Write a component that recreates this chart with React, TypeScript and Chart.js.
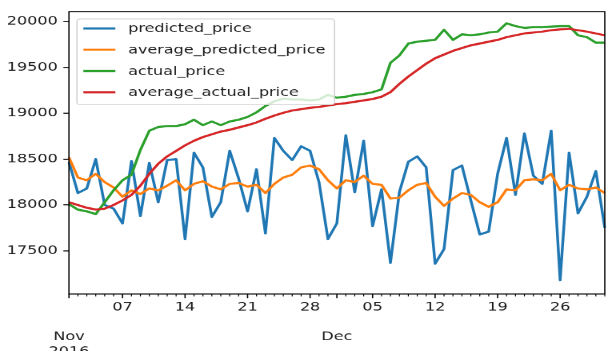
import { useEffect, useRef } from 'react';
import { Chart, registerables } from 'chart.js';

Chart.register(...registerables);

// Daily observations, 1 Nov 2016 .. 31 Dec 2016
const dates: string[] = Array.from({ length: 61 }, (_, i) =>
  new Date(Date.UTC(2016, 10, 1 + i)).toISOString().slice(0, 10)
);

const predictedPrice = [
  18470, 18130, 18180, 18500, 18000, 17960, 17800, 18480, 17880, 18460,
  18030, 18490, 18500, 17630, 18570, 18410, 17870, 18030, 18590, 18290,
  17930, 18390, 17690, 18730, 18590, 18490, 18640, 18590, 18250, 17630,
  17800, 18760, 18140, 18700, 17770, 18170, 17370, 18140, 18470, 18530,
  18410, 17360, 17520, 18380, 18430, 18050, 17680, 17710, 18340, 18730,
  18110, 18780, 18320, 18230, 18810, 17180, 18570, 17910, 18090, 18370,
  17750,
];

const averagePredictedPrice = [
  18520, 18300, 18270, 18340, 18250, 18190, 18090, 18160, 18120, 18180,
  18160, 18210, 18270, 18160, 18230, 18260, 18200, 18170, 18230, 18240,
  18200, 18220, 18130, 18230, 18300, 18330, 18410, 18430, 18390, 18270,
  18180, 18270, 18250, 18320, 18230, 18220, 18070, 18080, 18160, 18220,
  18240, 18090, 17990, 18070, 18130, 18110, 18030, 17980, 18030, 18170,
  18160, 18270, 18280, 18270, 18340, 18160, 18220, 18180, 18170, 18190,
  18130,
];

const actualPrice = [
  18010, 17950, 17930, 17900, 18030, 18160, 18270, 18330, 18600, 18810,
  18850, 18860, 18860, 18880, 18930, 18870, 18910, 18870, 18910, 18930,
  18960, 19010, 19080, 19130, 19160, 19150, 19150, 19140, 19150, 19200,
  19170, 19180, 19200, 19210, 19230, 19260, 19550, 19630, 19760, 19780,
  19790, 19800, 19910, 19800, 19860, 19850, 19860, 19880, 19890, 19980,
  19950, 19930, 19940, 19940, 19945, 19950, 19950, 19850, 19830, 19770,
  19770,
];

const averageActualPrice = [
  18030, 18000, 17970, 17950, 17960, 18000, 18050, 18110, 18210, 18340,
  18450, 18530, 18590, 18650, 18700, 18740, 18770, 18800, 18820, 18845,
  18870, 18900, 18940, 18975, 19005, 19030, 19045, 19060, 19070, 19085,
  19100, 19110, 19125, 19140, 19155, 19180, 19230, 19320, 19400, 19470,
  19540, 19600, 19640, 19680, 19710, 19740, 19760, 19780, 19800, 19830,
  19850, 19870, 19880, 19890, 19905, 19915, 19920, 19905, 19890, 19870,
  19850,
];

const seriesNames = ['predicted_price', 'average_predicted_price', 'actual_price', 'average_actual_price'];
const seriesColors = ['#1f77b4', '#ff7f0e', '#2ca02c', '#d62728'];
const yTickValues = [17500, 18000, 18500, 19000, 19500, 20000];
const yRange = [17030, 20107];

const FONT = { family: '"DejaVu Sans", sans-serif', size: 10 };
const TEXT = '#1a1a1a';
const LINE_W = 1.75;

function tickLabel(i: number): string | string[] {
  const d = new Date(dates[i] + 'T00:00:00Z');
  const day = d.getUTCDate();
  if (day === 1) {
    const m = d.toLocaleString('en-US', { month: 'short', timeZone: 'UTC' });
    return i === 0 ? ['', '', m, String(d.getUTCFullYear())] : ['', '', m];
  }
  if (d.getUTCDay() === 1) return String(day).padStart(2, '0');
  return '';
}

// frame around the axes plus daily minor / weekly major tick marks on x
const axesDecor = {
  id: 'axesDecor',
  afterDatasetsDraw(chart: any) {
    const { ctx, chartArea: a, scales } = chart;
    const xs = scales.x;
    ctx.save();
    ctx.strokeStyle = '#000';
    ctx.lineWidth = 0.8;
    ctx.strokeRect(a.left, a.top, a.right - a.left, a.bottom - a.top);
    for (let i = 0; i < dates.length; i++) {
      const px = xs.getPixelForValue(i);
      const major = tickLabel(i) !== '';
      ctx.lineWidth = major ? 0.8 : 0.6;
      ctx.beginPath();
      ctx.moveTo(px, a.bottom);
      ctx.lineTo(px, a.bottom + (major ? 3.5 : 2));
      ctx.stroke();
    }
    ctx.restore();
  },
};

// legend box in the upper-left corner of the axes
const cornerLegend = {
  id: 'cornerLegend',
  afterDraw(chart: any) {
    const { ctx, chartArea: a } = chart;
    const x0 = a.left + 5;
    const y0 = a.top + 5.9;
    const w = 161;
    const h = 69.7;
    ctx.save();
    ctx.beginPath();
    const r = 2;
    ctx.moveTo(x0 + r, y0);
    ctx.arcTo(x0 + w, y0, x0 + w, y0 + h, r);
    ctx.arcTo(x0 + w, y0 + h, x0, y0 + h, r);
    ctx.arcTo(x0, y0 + h, x0, y0, r);
    ctx.arcTo(x0, y0, x0 + w, y0, r);
    ctx.closePath();
    ctx.fillStyle = 'rgba(255,255,255,0.8)';
    ctx.fill();
    ctx.strokeStyle = 'rgba(204,204,204,0.9)';
    ctx.lineWidth = 0.8;
    ctx.stroke();
    ctx.font = `${FONT.size}px ${FONT.family}`;
    ctx.textBaseline = 'middle';
    ctx.textAlign = 'left';
    chart.data.datasets.forEach((ds: any, i: number) => {
      const yy = a.top + 13.6 + i * 17.3;
      ctx.strokeStyle = ds.borderColor;
      ctx.lineWidth = LINE_W;
      ctx.beginPath();
      ctx.moveTo(x0 + 4, yy);
      ctx.lineTo(x0 + 24, yy);
      ctx.stroke();
      ctx.fillStyle = TEXT;
      ctx.fillText(ds.label, x0 + 32, yy + 0.5);
    });
    ctx.restore();
  },
};

export default function App() {
  const ref = useRef<HTMLCanvasElement>(null);

  useEffect(() => {
    if (!ref.current) return;
    const series = [predictedPrice, averagePredictedPrice, actualPrice, averageActualPrice];
    const chart = new Chart(ref.current, {
      type: 'line',
      data: {
        labels: dates,
        datasets: series.map((values, i) => ({
          label: seriesNames[i],
          data: values,
          borderColor: seriesColors[i],
          backgroundColor: seriesColors[i],
          borderWidth: LINE_W,
          pointRadius: 0,
          tension: 0,
          borderJoinStyle: 'round' as const,
          order: series.length - 1 - i,
        })),
      },
      options: {
        animation: false,
        responsive: false,
        devicePixelRatio: 2,
        layout: { padding: { top: 4.9, right: 1, left: 0, bottom: 0 } },
        plugins: { legend: { display: false }, tooltip: { enabled: false } },
        scales: {
          x: {
            type: 'category',
            offset: false,
            grid: { display: false, drawTicks: false },
            border: { display: false },
            ticks: {
              autoSkip: false,
              maxRotation: 0,
              minRotation: 0,
              padding: 5,
              color: TEXT,
              font: FONT,
              callback: (_v: any, i: number) => tickLabel(i),
            },
            afterFit: (s: any) => {
              s.height = 47;
            },
          },
          y: {
            type: 'linear',
            min: yRange[0],
            max: yRange[1],
            grid: { drawOnChartArea: false, drawTicks: true, tickLength: 3.5, tickColor: '#000', tickWidth: 0.8 },
            border: { display: false },
            ticks: { padding: 3.5, color: TEXT, font: FONT, callback: (v: any) => String(v) },
            afterBuildTicks: (s: any) => {
              s.ticks = yTickValues.map((v) => ({ value: v }));
            },
            afterFit: (s: any) => {
              s.width = 43.1;
            },
          },
        },
      },
      plugins: [axesDecor, cornerLegend],
    });
    return () => chart.destroy();
  }, []);

  return (
    <div style={{ position: 'fixed', left: 0, top: 0, width: 610, height: 351, overflow: 'hidden', background: '#fff' }}>
      <canvas
        ref={ref}
        width={383}
        height={286}
        style={{ transform: 'scale(1.6, 1.23)', transformOrigin: '0 0', display: 'block' }}
      />
    </div>
  );
}
